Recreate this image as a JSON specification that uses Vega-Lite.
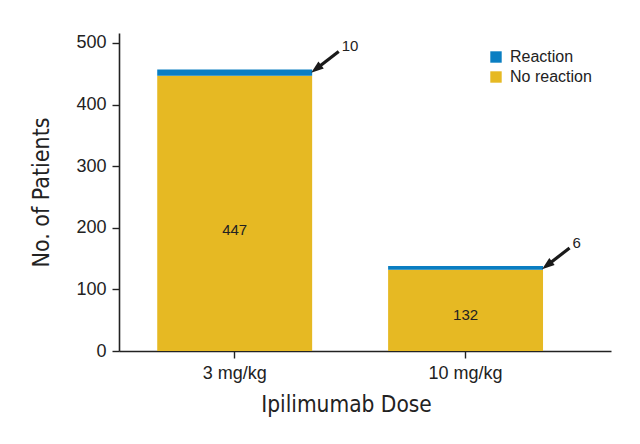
{
  "$schema": "https://vega.github.io/schema/vega-lite/v6.json",
  "autosize": {"type": "none"},
  "width": 492,
  "height": 318,
  "padding": {"left": 119, "top": 33, "right": 29, "bottom": 93},
  "background": "white",
  "config": {
    "view": {"stroke": null},
    "font": "Liberation Sans",
    "axis": {"grid": false, "domainColor": "#222", "domainWidth": 1.6, "tickColor": "#222", "tickWidth": 1.4, "tickSize": 7, "labelColor": "#222", "titleColor": "#222", "titleFontWeight": "normal", "labelFont": "Liberation Sans", "titleFont": "DejaVu Sans Condensed"}
  },
  "datasets": {
    "counts": [
      {"dose": "3 mg/kg", "status": "No reaction", "n": 447},
      {"dose": "3 mg/kg", "status": "Reaction", "n": 10},
      {"dose": "10 mg/kg", "status": "No reaction", "n": 132},
      {"dose": "10 mg/kg", "status": "Reaction", "n": 6}
    ],
    "notes": [
      {"dose": "3 mg/kg", "total": 457, "label": "10"},
      {"dose": "10 mg/kg", "total": 138, "label": "6"}
    ]
  },
  "layer": [
    {
      "data": {"name": "counts"},
      "mark": {"type": "bar"},
      "encoding": {
        "x": {"field": "dose", "type": "nominal", "sort": ["3 mg/kg", "10 mg/kg"],
              "scale": {"paddingInner": 0.329, "paddingOuter": 0.23, "align": 0.36},
              "axis": {"title": "Ipilimumab Dose", "labelAngle": 0, "labelFontSize": 18, "labelPadding": 6, "titleFontSize": 22.5, "titlePadding": 11, "titleX": 227}},
        "y": {"field": "n", "type": "quantitative", "aggregate": "sum", "stack": "zero",
              "scale": {"domain": [0, 516.2], "nice": false},
              "axis": {"title": "No. of Patients", "values": [0, 100, 200, 300, 400, 500], "labelFontSize": 18, "labelPadding": 6, "titleFontSize": 23, "titlePadding": 22}},
        "color": {"field": "status", "type": "nominal",
                  "scale": {"domain": ["Reaction", "No reaction"], "range": ["#0a7ec2", "#e6b923"]},
                  "legend": {"title": null, "orient": "none", "legendX": 369, "legendY": 16, "symbolType": "square", "symbolSize": 130, "symbolStrokeWidth": 0, "labelFontSize": 16, "labelColor": "#222", "rowPadding": 4, "padding": 0, "labelOffset": 6}},
        "order": {"field": "status", "sort": "ascending"}
      }
    },
    {
      "data": {"name": "counts"},
      "transform": [
        {"filter": "datum.status === 'No reaction'"},
        {"calculate": "datum.n * 0.44", "as": "pos"}
      ],
      "mark": {"type": "text", "fontSize": 15, "color": "#222"},
      "encoding": {
        "x": {"field": "dose", "type": "nominal", "sort": ["3 mg/kg", "10 mg/kg"]},
        "y": {"field": "pos", "type": "quantitative"},
        "text": {"field": "n", "type": "quantitative"}
      }
    },
    {
      "data": {"name": "notes"},
      "mark": {"type": "rule", "strokeWidth": 3.2, "color": "#1a1a1a", "xOffset": 82, "yOffset": -1, "x2Offset": 104, "y2Offset": -18},
      "encoding": {
        "x": {"field": "dose", "type": "nominal", "sort": ["3 mg/kg", "10 mg/kg"]},
        "x2": {"field": "dose"},
        "y": {"field": "total", "type": "quantitative"},
        "y2": {"field": "total"}
      }
    },
    {
      "data": {"name": "notes"},
      "mark": {"type": "point", "shape": "M0,-1L0.62,0.8L-0.62,0.8Z", "filled": true, "size": 196, "angle": 232, "color": "#1a1a1a", "opacity": 1, "xOffset": 82, "yOffset": -1},
      "encoding": {
        "x": {"field": "dose", "type": "nominal", "sort": ["3 mg/kg", "10 mg/kg"]},
        "y": {"field": "total", "type": "quantitative"}
      }
    },
    {
      "data": {"name": "notes"},
      "mark": {"type": "text", "align": "left", "baseline": "middle", "fontSize": 15, "color": "#222", "xOffset": 107, "yOffset": -23},
      "encoding": {
        "x": {"field": "dose", "type": "nominal", "sort": ["3 mg/kg", "10 mg/kg"]},
        "y": {"field": "total", "type": "quantitative"},
        "text": {"field": "label", "type": "nominal"}
      }
    }
  ]
}
